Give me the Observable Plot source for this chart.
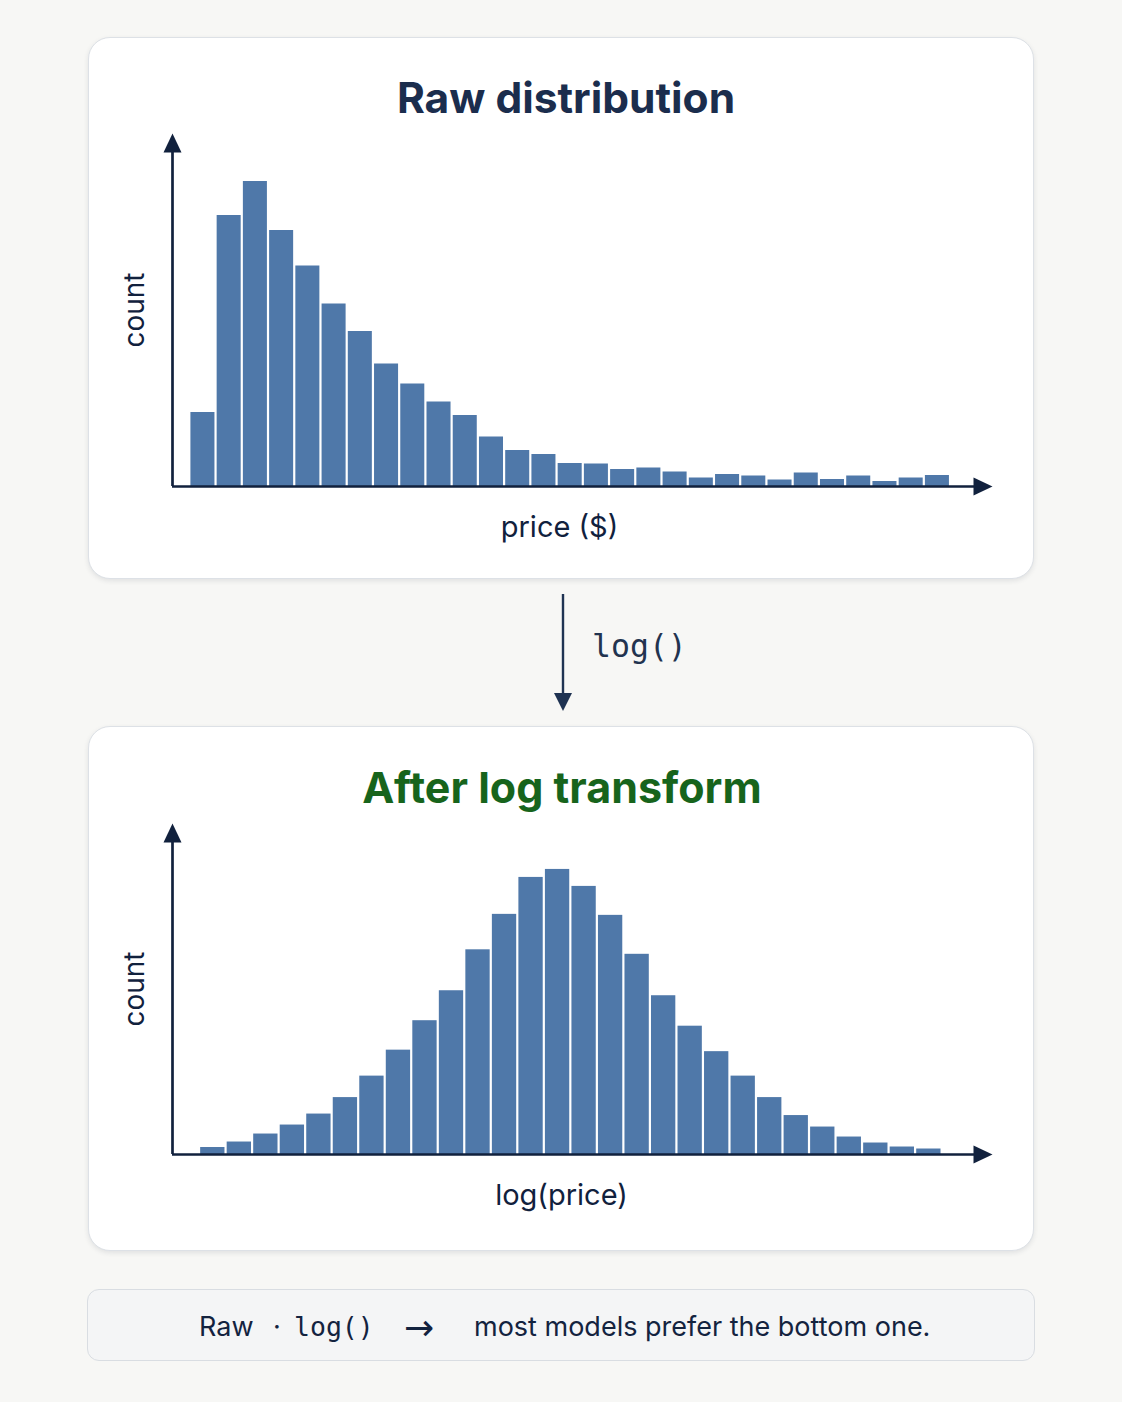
<!DOCTYPE html>
<html>
<head>
<meta charset="utf-8">
<script src="https://cdn.jsdelivr.net/npm/d3@7"></script>
<script src="https://cdn.jsdelivr.net/npm/@observablehq/plot@0.6"></script>
<style>
  html, body { margin: 0; padding: 0; background: #f7f7f5; }
  #page { position: relative; width: 1122px; height: 1402px; overflow: hidden; font-family: Inter, "Noto Sans", sans-serif; }
  .card { position: absolute; background: #ffffff; border: 1.5px solid #dde1e6; border-radius: 22px; box-shadow: 0 2px 5px rgba(30,40,60,0.10); box-sizing: border-box; }
  .footer { position: absolute; background: #f4f5f6; border: 1.5px solid #d9dde2; border-radius: 12px; box-sizing: border-box; }
  .plot { position: absolute; }
  #overlay { position: absolute; left: 0; top: 0; }
</style>
</head>
<body>
<div id="page">
  <div class="card" style="left:88px; top:37px; width:946px; height:542px;"></div>
  <div class="card" style="left:88px; top:726px; width:946px; height:525px;"></div>
  <div class="footer" style="left:87px; top:1289px; width:948px; height:72px;"></div>
  <div id="top" class="plot" style="left:100px; top:125px;"></div>
  <div id="bottom" class="plot" style="left:100px; top:815px;"></div>
  <svg id="overlay" width="1122" height="1402"></svg>
</div>
<script>
// ---- data ----
const rawCounts = [148, 542, 610, 512, 441, 365, 310, 245, 205, 169, 142, 99, 72, 64, 46, 45, 34, 37, 29, 17, 24, 21, 13, 27, 14, 21, 10, 17, 22];
const logCounts = [14, 25, 41, 59, 81, 114, 157, 209, 268, 328, 410, 481, 555, 571, 537, 479, 401, 318, 257, 206, 157, 114, 78, 55, 35, 23, 15, 11];
const titles = ["Raw distribution", "After log transform"];
const xLabels = ["price ($)", "log(price)"];
const yLabel = "count";
const arrowLabel = "log()";
const footerParts = ["Raw", "·", "log()", "→", "most models prefer the bottom one."];

const navy = "#11213d";
const barColor = "#4f78a9";
const font = "Inter, 'Noto Sans', sans-serif";

const upHead = { draw(ctx) { ctx.moveTo(0, 0); ctx.lineTo(9, 19); ctx.lineTo(-9, 19); ctx.closePath(); } };
const rightHead = { draw(ctx) { ctx.moveTo(0, 0); ctx.lineTo(-19, -9); ctx.lineTo(-19, 9); ctx.closePath(); } };

function histogram(counts, opts) {
  const bins = counts.map((c, i) => ({ x1: i, x2: i + 1, count: c }));
  const [x0, x1] = opts.xDomain;
  const [y0, y1] = opts.yDomain;
  return Plot.plot({
    width: 920,
    height: opts.height,
    marginLeft: 72,
    marginRight: 28,
    marginTop: 8,
    marginBottom: opts.marginBottom,
    x: { domain: opts.xDomain, axis: null },
    y: { domain: opts.yDomain, axis: null },
    style: { fontFamily: font, background: "transparent", overflow: "visible" },
    marks: [
      Plot.rectY(bins, { x1: "x1", x2: "x2", y: "count", fill: barColor, insetLeft: 1.1, insetRight: 1.1 }),
      Plot.ruleX([x0], { y1: () => y1, y2: () => y0, stroke: navy, strokeWidth: 2.7, insetTop: 12 }),
      Plot.ruleY([y0], { x1: () => x0, x2: () => x1, stroke: navy, strokeWidth: 2.7, insetRight: 12 }),
      Plot.dot([[x0, y1]], { x: d => d[0], y: d => d[1], symbol: upHead, fill: navy, stroke: null, r: 9 }),
      Plot.dot([[x1, y0]], { x: d => d[0], y: d => d[1], symbol: rightHead, fill: navy, stroke: null, r: 9 }),
      Plot.text([opts.xLabel], { text: d => d, frameAnchor: "bottom", textAnchor: "middle", lineAnchor: "middle", dy: 41, dx: opts.xLabelDx, fontSize: 29, fill: navy, fontFamily: font }),
      Plot.text([yLabel], { text: d => d, frameAnchor: "left", textAnchor: "middle", lineAnchor: "middle", dx: -37, rotate: -90, fontSize: 28, fill: navy, fontFamily: font })
    ]
  });
}

document.getElementById("top").append(histogram(rawCounts, {
  xDomain: [-0.66, 30.6], yDomain: [0, 706], height: 430, marginBottom: 69, xLabel: xLabels[0], xLabelDx: -23
}));
document.getElementById("bottom").append(histogram(logCounts, {
  xDomain: [-1.02, 29.9], yDomain: [0, 663], height: 400, marginBottom: 61, xLabel: xLabels[1], xLabelDx: -21
}));

// ---- overlay text & connector ----
const ov = d3.select("#overlay");
ov.append("text").attr("x", 566).attr("y", 113).attr("text-anchor", "middle")
  .attr("font-family", font).attr("font-weight", 700).attr("font-size", 42.5).attr("fill", "#1b2d4d").text(titles[0]);
ov.append("text").attr("x", 562).attr("y", 803).attr("text-anchor", "middle")
  .attr("font-family", font).attr("font-weight", 700).attr("font-size", 43).attr("fill", "#17641c").text(titles[1]);

ov.append("line").attr("x1", 563).attr("x2", 563).attr("y1", 594).attr("y2", 698)
  .attr("stroke", "#1f3352").attr("stroke-width", 2.4);
ov.append("path").attr("d", "M554,693 L572,693 L563,711 Z").attr("fill", "#1f3352");
ov.append("text").attr("x", 592).attr("y", 657).attr("font-family", "'DejaVu Sans Mono', monospace")
  .attr("font-size", 31.5).attr("fill", "#22334f").text(arrowLabel);

const fy = 1336;
const fx = [199, 273, 294, 404, 474];
footerParts.forEach((t, i) => {
  ov.append("text").attr("x", fx[i]).attr("y", i === 3 ? fy + 4 : fy)
    .attr("font-family", i === 2 ? "'DejaVu Sans Mono', monospace" : i === 3 ? "'DejaVu Sans', sans-serif" : font)
    .attr("font-size", i === 2 ? 26.5 : i === 3 ? 36 : 27)
    .attr("fill", "#13233f").text(t);
});
</script>
</body>
</html>
